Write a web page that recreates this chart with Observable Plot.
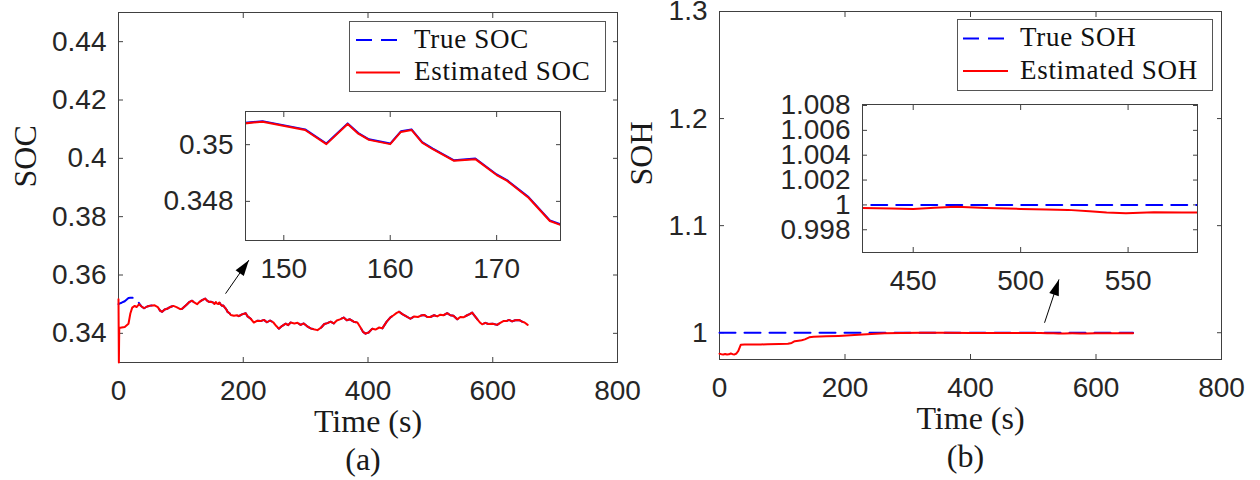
<!DOCTYPE html>
<html><head><meta charset="utf-8">
<script src="https://cdn.jsdelivr.net/npm/d3@7"></script>
<script src="https://cdn.jsdelivr.net/npm/@observablehq/plot@0.6"></script>
<style>
body{margin:0;background:#fff;}
#wrap{position:relative;width:1260px;height:480px;overflow:hidden;background:#fff;}
.legend{position:absolute;border:1px solid #555;background:#fff;font-family:"Liberation Serif",serif;font-size:27px;color:#111;box-sizing:border-box;}
.legend span{position:absolute;line-height:1;white-space:nowrap;letter-spacing:0.7px;transform:translateY(-50%);}
.legend svg{position:absolute;left:0;top:0;}
</style></head>
<body><div id="wrap"></div>
<script>
// ---------- data ----------
const socTime = [0,0.6,1.2,5,10,16,19,22,26,29,33,37,41,46,51,58,63,67,70,74,78,81,85,88,93,99,102,106,110,114,118,122,126,130,134,139,142,144,
 146,148,152,154,156,157,158,160,161,162,163,164,166,168,170,171,173,175,176,178,
 180,185,190,193,198,204,207,212,217,222,228,233,238,243,248,253,257,262,268,272,276,282,287,292,297,302,308,313,319,325,330,335,340,345,350,355,361,366,371,377,383,388,392,396,401,407,412,418,423,430,436,441,446,450,455,460,468,474,480,485,490,495,500,506,511,516,521,527,532,537,543,548,553,559,563,567,571,576,580,583,588,593,600,607,612,617,622,626,631,636,642,647,651,656];
const socEstimated = [0.3517,0.3300,0.3418,0.3420,0.3422,0.3433,0.3468,0.3488,0.3494,0.3490,0.3500,0.3492,0.3486,0.3492,0.3495,0.3496,0.3490,0.3477,0.3474,0.3482,0.3484,0.3488,0.3492,0.3494,0.3490,0.3483,0.3484,0.3492,0.3500,0.3508,0.3512,0.3505,0.3500,0.3508,0.3514,0.3519,0.3512,0.3509,
 0.35076,0.35083,0.35054,0.35004,0.35075,0.35041,0.35019,0.35004,0.35047,0.35054,0.35009,0.34986,0.34945,0.34951,0.34895,0.34874,0.34815,0.34733,0.34719,0.3469,
 0.3463,0.3460,0.3462,0.3459,0.3465,0.3469,0.3458,0.3450,0.3437,0.3443,0.3442,0.3446,0.3438,0.3444,0.3438,0.3425,0.3416,0.3425,0.3433,0.3428,0.3437,0.3434,0.3436,0.3429,0.3434,0.3425,0.3417,0.3414,0.3411,0.3420,0.3432,0.3435,0.3440,0.3434,0.3444,0.3448,0.3454,0.3445,0.3448,0.3440,0.3437,0.3420,0.3405,0.3399,0.3403,0.3416,0.3413,0.3420,0.3417,0.3440,0.3455,0.3462,0.3470,0.3474,0.3466,0.3460,0.3450,0.3458,0.3456,0.3461,0.3463,0.3456,0.3456,0.3462,0.3458,0.3464,0.3462,0.3469,0.3462,0.3460,0.3448,0.3456,0.3455,0.3462,0.3466,0.3471,0.3460,0.3446,0.3436,0.3431,0.3436,0.3432,0.3433,0.3429,0.3436,0.3442,0.3442,0.3446,0.3441,0.3445,0.3446,0.3440,0.3437,0.3429];
const socTrueEarly = [0.3500,0.3501,0.3502,0.3505,0.3510,0.3521,0.3522,0.3522,0.3521,0.3520,0.3503];
const socTrue = socTrueEarly.concat(socEstimated.slice(socTrueEarly.length));

const sohTime = [0,3,6,9,12,15,18,21,24,27,30,34,40,50,66,77,95,109,115,120,126,131,136,143,150,170,190,215,235,263,290,320,360,400,426,440,450,460,470,484,500,512,522,532,540,549,562,575,583,600,620,640,659];
const sohEstimated = [0.9804,0.9800,0.9797,0.9801,0.9797,0.9798,0.9806,0.9800,0.9797,0.9806,0.9830,0.9888,0.9891,0.9890,0.9890,0.9893,0.9895,0.9897,0.9905,0.9921,0.9926,0.9930,0.9938,0.9957,0.9962,0.9966,0.9970,0.9978,0.9986,0.9996,0.99985,0.99990,0.99990,0.99985,0.99976,0.99972,0.99968,0.99978,0.99986,0.99976,0.99968,0.99964,0.99960,0.99948,0.99938,0.99932,0.99940,0.99938,0.99938,0.99940,0.99942,0.99945,0.99945];
const sohTrueTime = [0, 659];
const sohTrue = [1, 1];

const mainXTicks = [0, 200, 400, 600, 800];
const socYTicks = [0.34, 0.36, 0.38, 0.4, 0.42, 0.44];
const sohYTicks = [1, 1.1, 1.2, 1.3];
const socInsetXTicks = [150, 160, 170];
const socInsetYTicks = [0.348, 0.35];
const sohInsetXTicks = [450, 500, 550];
const sohInsetYTicks = [0.998, 1, 1.002, 1.004, 1.006, 1.008];

const arrowA = [{x1: 171.6, y1: 0.3536, x2: 209, y2: 0.3651}];
const arrowB = [{x1: 518, y1: 1.0093, x2: 541, y2: 1.0498}];

// ---------- styling ----------
const BLUE = "#0000ff", RED = "#ff0000", INK = "#262626", FRAME = "#404040";
const SANS = "Liberation Sans, Arial, sans-serif";
const SERIF = "Liberation Serif, Times New Roman, serif";
const DASH = "16,9";

const soc = socTime.map((t, i) => ({t, est: socEstimated[i], tru: socTrue[i]}));
const soh = sohTime.map((t, i) => ({t, est: sohEstimated[i]}));
const sohT = sohTrueTime.map((t, i) => ({t, tru: sohTrue[i]}));

const fmt = d => String(+d.toFixed(4));

function boxAxes(xTicks, yTicks) {
  const common = {stroke: FRAME, fill: INK, fontSize: 28, fontFamily: SANS, tickSize: -5, label: null};
  const mirror = {...common, fill: "none"};
  return [
    Plot.frame({fill: "white", stroke: null}),
    Plot.axisX(xTicks, {anchor: "bottom", ...common, tickPadding: 23, tickFormat: fmt}),
    Plot.axisX(xTicks, {anchor: "top", ...mirror}),
    Plot.axisY(yTicks, {anchor: "left", ...common, tickPadding: 17, tickFormat: fmt}),
    Plot.axisY(yTicks, {anchor: "right", ...mirror}),
    Plot.frame({stroke: FRAME, strokeWidth: 1})
  ];
}

const headSymbol = {draw(ctx) { ctx.moveTo(0, 0); ctx.lineTo(5, 16); ctx.lineTo(-5, 16); ctx.closePath(); }};

function arrowMarks(data, angle) {
  return [
    Plot.link(data, {x1: "x1", y1: "y1", x2: "x2", y2: "y2", stroke: "black", strokeWidth: 1}),
    Plot.dot(data, {x: "x2", y: "y2", symbol: headSymbol, r: 5, fill: "black", stroke: null, rotate: angle})
  ];
}

function labels(xlab, cap, ylab, ydx) {
  const t = {fontFamily: SERIF, fontSize: 32, fill: "#1a1a1a", text: d => d};
  return [
    Plot.text([xlab], {...t, frameAnchor: "bottom", lineAnchor: "top", dy: 47}),
    Plot.text([cap], {...t, frameAnchor: "bottom", lineAnchor: "top", dy: 85, dx: -5}),
    Plot.text([ylab], {...t, frameAnchor: "left", rotate: -90, dx: ydx})
  ];
}

const baseStyle = {background: "transparent", overflow: "visible", maxWidth: "none", position: "absolute"};

function place(svg, left, top) {
  svg.style.position = "absolute";
  svg.style.left = left + "px";
  svg.style.top = top + "px";
  document.getElementById("wrap").appendChild(svg);
}

// ---------- panel (a) ----------
const plotA = Plot.plot({
  width: 660, height: 480, marginLeft: 118, marginRight: 43, marginTop: 12, marginBottom: 118,
  style: baseStyle,
  x: {domain: [0, 800]}, y: {domain: [0.33, 0.45]},
  marks: [
    ...boxAxes(mainXTicks, socYTicks),
    Plot.line(soc, {x: "t", y: "tru", stroke: BLUE, strokeWidth: 2, strokeDasharray: DASH}),
    Plot.line(soc, {x: "t", y: "est", stroke: RED, strokeWidth: 2}),
    ...arrowMarks(arrowA, 35),
    ...labels("Time (s)", "(a)", "SOC", -93)
  ]
});
place(plotA, 0, 0);

// ---------- panel (b) ----------
const plotB = Plot.plot({
  width: 630, height: 480, marginLeft: 89, marginRight: 39, marginTop: 11, marginBottom: 121,
  style: baseStyle,
  x: {domain: [0, 800]}, y: {domain: [0.975, 1.3]},
  marks: [
    ...boxAxes(mainXTicks, sohYTicks),
    Plot.line(sohT, {x: "t", y: "tru", stroke: BLUE, strokeWidth: 2, strokeDasharray: DASH}),
    Plot.line(soh, {x: "t", y: "est", stroke: RED, strokeWidth: 2}),
    ...arrowMarks(arrowB, 18),
    ...labels("Time (s)", "(b)", "SOH", -78)
  ]
});
place(plotB, 630, 0);

// ---------- inset (a) ----------
const insetA = Plot.plot({
  width: 420, height: 210, marginLeft: 95, marginRight: 10, marginTop: 21, marginBottom: 60,
  style: baseStyle,
  x: {domain: [146.4, 176]}, y: {domain: [0.34662, 0.35117]},
  marks: [
    ...boxAxes(socInsetXTicks, socInsetYTicks).slice(0, 5),
    Plot.line(soc, {x: "t", y: "tru", stroke: BLUE, strokeWidth: 2, clip: true}),
    Plot.line(soc, {x: "t", y: "est", stroke: RED, strokeWidth: 2, clip: true, dy: 0.6}),
    Plot.frame({stroke: FRAME, strokeWidth: 1})
  ]
});
place(insetA, 150, 90);

// ---------- inset (b) ----------
const insetB = Plot.plot({
  width: 450, height: 210, marginLeft: 102, marginRight: 13, marginTop: 14, marginBottom: 48,
  style: baseStyle,
  x: {domain: [426.4, 582.3]}, y: {domain: [0.99617, 1.00808]},
  marks: [
    ...boxAxes(sohInsetXTicks, sohInsetYTicks).slice(0, 5),
    Plot.line(sohT, {x: "t", y: "tru", stroke: BLUE, strokeWidth: 2, strokeDasharray: DASH, clip: true}),
    Plot.line(soh, {x: "t", y: "est", stroke: RED, strokeWidth: 2, clip: true}),
    Plot.frame({stroke: FRAME, strokeWidth: 1})
  ]
});
place(insetB, 760, 90);

// ---------- legends ----------
function legend(left, top, w, h, names, rowY, lineX1, lineX2, textX) {
  const div = document.createElement("div");
  div.className = "legend";
  Object.assign(div.style, {left: left + "px", top: top + "px", width: w + "px", height: h + "px"});
  const ns = "http://www.w3.org/2000/svg";
  const svg = document.createElementNS(ns, "svg");
  svg.setAttribute("width", w); svg.setAttribute("height", h);
  [[BLUE, DASH], [RED, null]].forEach(([c, dash], i) => {
    const ln = document.createElementNS(ns, "line");
    ln.setAttribute("x1", lineX1); ln.setAttribute("x2", lineX2);
    ln.setAttribute("y1", rowY[i] + 1.5); ln.setAttribute("y2", rowY[i] + 1.5);
    ln.setAttribute("stroke", c); ln.setAttribute("stroke-width", 2);
    if (dash) ln.setAttribute("stroke-dasharray", dash);
    svg.appendChild(ln);
  });
  div.appendChild(svg);
  names.forEach((n, i) => {
    const s = document.createElement("span");
    s.textContent = n;
    s.style.left = textX + "px";
    s.style.top = rowY[i] + "px";
    div.appendChild(s);
  });
  document.getElementById("wrap").appendChild(div);
}
legend(349, 21, 257, 71, ["True SOC", "Estimated SOC"], [16.5, 49], 6, 50, 64);
legend(957, 19, 256, 72, ["True SOH", "Estimated SOH"], [17, 49.5], 5, 50, 62);
</script>
</body></html>
